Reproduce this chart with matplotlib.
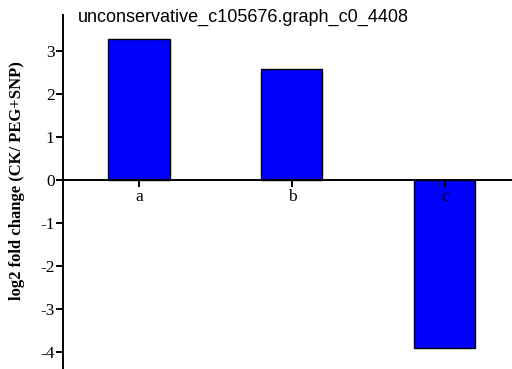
import matplotlib
matplotlib.use("Agg")
import matplotlib.pyplot as plt
import numpy as np

# data
categories = ["a", "b", "c"]
values = [3.27, 2.58, -3.9]
yticks = [-4, -3, -2, -1, 0, 1, 2, 3]
title = "unconservative_c105676.graph_c0_4408"
ylabel = "log2 fold change (CK/ PEG+SNP)"

fig = plt.figure(figsize=(5.12, 3.69), dpi=100)
ax = fig.add_axes([63 / 512, 0.0, 1 - 63 / 512, 1 - 15 / 369])

x = np.arange(len(categories))
ax.bar(x, values, width=0.4, color="#0000ff", edgecolor="black", linewidth=1.0, zorder=1)

ax.set_xlim(-0.497, 2.44)
ax.set_ylim(-4.4, 3.84)

ax.spines["top"].set_visible(False)
ax.spines["right"].set_visible(False)
ax.spines["bottom"].set_position(("data", 0))
ax.spines["bottom"].set_linewidth(1.4)
ax.spines["left"].set_linewidth(1.4)
ax.spines["bottom"].set_zorder(5)
ax.xaxis.set_zorder(6)

ax.set_xticks(x)
ax.set_xticklabels(categories, family="Liberation Serif", fontsize=12.5)
ax.set_yticks(yticks)
ax.set_yticklabels([str(t) for t in yticks], family="Liberation Serif", fontsize=12.5)
ax.tick_params(axis="x", direction="out", length=5, width=1.4, pad=1.5)
ax.tick_params(axis="y", direction="out", length=5, width=1.4, pad=1)

fig.text(78 / 512, 1 - 17 / 369, title, family="Liberation Sans", fontsize=13,
         ha="left", va="center")
fig.text(17 / 512, 1 - 181 / 369, ylabel, family="Liberation Serif", fontsize=12,
         fontweight="bold", rotation=90, ha="center", va="center")

plt.savefig("out.png", dpi=100)
plt.close()
